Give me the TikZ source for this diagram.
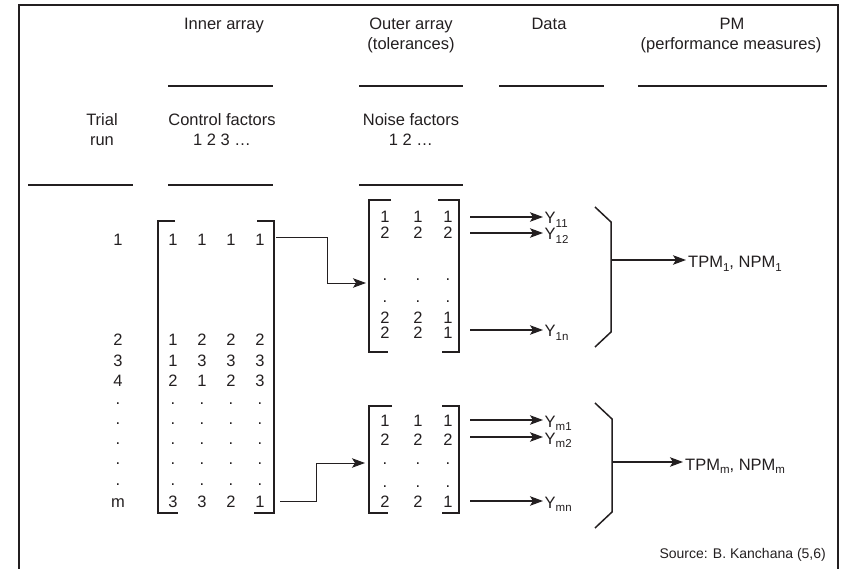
\documentclass[tikz,border=0pt]{standalone}
\usepackage{fontspec}
\setmainfont{Liberation Sans}
\usetikzlibrary{arrows.meta}
\definecolor{ink}{RGB}{35,31,32}
\newcommand\lowsub[1]{\raisebox{-3.5pt}{\fontsize{11.5}{12}\selectfont #1}}
\begin{document}
\begin{tikzpicture}[x=1pt,y=-1pt,
  txt/.style={inner sep=0pt, font=\fontsize{16.5}{20}\selectfont, text=ink},
  num/.style={txt, text height=11.8pt, text depth=0pt},
  dotn/.style={txt},
  small/.style={inner sep=0pt, font=\fontsize{14}{17}\selectfont, text=ink},
  rulel/.style={line width=2pt, draw=ink},
  brk/.style={line width=2pt, draw=ink},
  brace/.style={line width=1.5pt, draw=ink},
  conn/.style={line width=0.9pt, draw=ink, -{Stealth[length=13pt,width=9.5pt,inset=3pt]}},
  arr/.style={line width=1.1pt, draw=ink, -{Stealth[length=13pt,width=9.5pt,inset=3pt]}},
]
\useasboundingbox (0,0) rectangle (841,569);
% frame (open at the bottom)
\draw[line width=1.4pt, ink] (19,569) -- (19,5) -- (838,5) -- (838,569);

% header texts
\node[txt, anchor=base] (hInner) at (224,30) {Inner array};
\node[txt, anchor=base] (hOuter) at (411,30) {Outer array};
\node[txt, anchor=base] (hTol) at (411,50) {(tolerances)};
\node[txt, anchor=base] (hData) at (549,30) {Data};
\node[txt, anchor=base] (hPM) at (732,30) {PM};
\node[txt, anchor=base] (hPerf) at (731,50) {(performance measures)};
\node[txt, anchor=base] (hTrial) at (102,126) {Trial};
\node[txt, anchor=base] (hRun) at (102,146) {run};
\node[txt, anchor=base] (hCtrl) at (222,126) {Control factors};
\node[txt, anchor=base] (hCtrlN) at (222,146) {1 2 3 …};
\node[txt, anchor=base] (hNoise) at (411,126) {Noise factors};
\node[txt, anchor=base] (hNoiseN) at (411,146) {1 2 …};

% header rules
\draw[rulel] (168,86) -- (273,86);
\draw[rulel] (359,86) -- (463,86);
\draw[rulel] (499,86) -- (604,86);
\draw[rulel] (638,86) -- (827,86);
\draw[rulel] (28,185) -- (133,185);
\draw[rulel] (168,185) -- (273,185);
\draw[rulel] (359,185) -- (463,185);

% trial run column
\foreach \y/\t [count=\i] in {240/1,340/2,361/3,381/4,502/m}
  \node[num] (T\i) at (118,\y) {\t};
\foreach \y [count=\i] in {404,424,444,464,485}
  \node[dotn] (Td\i) at (118,\y) {.};

% inner array
\foreach \y/\a/\b/\c/\d [count=\i] in {240/1/1/1/1,340/1/2/2/2,361/1/3/3/3,381/2/1/2/3,502/3/3/2/1}{
  \node[num] (L\i a) at (173,\y) {\a};
  \node[num] (L\i b) at (202,\y) {\b};
  \node[num] (L\i c) at (231,\y) {\c};
  \node[num] (L\i d) at (260,\y) {\d};
}
\foreach \y [count=\i] in {404,424,444,464,485}
  \foreach \x [count=\j] in {173,202,231,260}
    \node[dotn] (Ld\i-\j) at (\x,\y) {.};
\draw[brk] (175,221) -- (158,221) -- (158,513) -- (178,513);
\draw[brk] (257,221) -- (274,221) -- (274,513) -- (254,513);

% upper outer array
\foreach \y/\a/\b/\c [count=\i] in {217/1/1/1,233/2/2/2,318/2/2/1,333/2/2/1}{
  \node[num] (U\i a) at (385,\y) {\a};
  \node[num] (U\i b) at (418,\y) {\b};
  \node[num] (U\i c) at (448,\y) {\c};
}
\foreach \y [count=\i] in {280,302}
  \foreach \x [count=\j] in {385,418,448}
    \node[dotn] (Ud\i-\j) at (\x,\y) {.};
\draw[brk] (391,200) -- (369,200) -- (369,352) -- (388,352);
\draw[brk] (438,200) -- (459,200) -- (459,352) -- (442,352);

% lower outer array
\foreach \y/\a/\b/\c [count=\i] in {421/1/1/1,440/2/2/2,502/2/2/1}{
  \node[num] (W\i a) at (385,\y) {\a};
  \node[num] (W\i b) at (418,\y) {\b};
  \node[num] (W\i c) at (448,\y) {\c};
}
\foreach \y [count=\i] in {464,487}
  \foreach \x [count=\j] in {385,418,448}
    \node[dotn] (Wd\i-\j) at (\x,\y) {.};
\draw[brk] (392,406) -- (369,406) -- (369,513) -- (388,513);
\draw[brk] (442,406) -- (459,406) -- (459,513) -- (442,513);

% connectors inner -> outer
\coordinate (s1) at (276,237);
\coordinate (e1) at (366,283);
\draw[conn] (s1) -- ++(51,0) |- (e1);
\coordinate (s2) at (280,501);
\coordinate (e2) at (365,463);
\draw[conn] (s2) -- ++(36,0) |- (e2);

% data labels
\node[txt, anchor=base west, inner sep=1.5pt] (Y11) at (543,224) {Y\lowsub{11}};
\node[txt, anchor=base west, inner sep=1.5pt] (Y12) at (543,240) {Y\lowsub{12}};
\node[txt, anchor=base west, inner sep=1.5pt] (Y1n) at (543,337) {Y\lowsub{1n}};
\node[txt, anchor=base west, inner sep=1.5pt] (Ym1) at (543,427) {Y\lowsub{m1}};
\node[txt, anchor=base west, inner sep=1.5pt] (Ym2) at (543,444) {Y\lowsub{m2}};
\node[txt, anchor=base west, inner sep=1.5pt] (Ymn) at (543,508) {Y\lowsub{mn}};

\coordinate (a1) at (470,217);
\coordinate (a2) at (470,233);
\coordinate (a3) at (470,330);
\coordinate (b1) at (470,420);
\coordinate (b2) at (470,437);
\coordinate (b3) at (470,501);
\draw[arr] (a1) -- (a1 -| Y11.west);
\draw[arr] (a2) -- (a2 -| Y12.west);
\draw[arr] (a3) -- (a3 -| Y1n.west);
\draw[arr] (b1) -- (b1 -| Ym1.west);
\draw[arr] (b2) -- (b2 -| Ym2.west);
\draw[arr] (b3) -- (b3 -| Ymn.west);

% braces and performance measures
\draw[brace] (595,207) -- (611,222) -- (611,332) -- (595,347);
\draw[brace] (595,403) -- (612,419) -- (612,512) -- (595,528);
\coordinate (p1) at (611,260);
\coordinate (p2) at (612,462);
\node[txt, anchor=base west, inner sep=2pt] (PM1) at (686,268) {TPM\lowsub{1}, NPM\lowsub{1}};
\node[txt, anchor=base west, inner sep=2pt] (PMm) at (683,470) {TPM\lowsub{m}, NPM\lowsub{m}};
\draw[arr] (p1) -- (p1 -| PM1.west);
\draw[arr] (p2) -- (p2 -| PMm.west);

% source
\node[small, anchor=east] (src) at (826,555) {Source: B. Kanchana (5,6)};
\end{tikzpicture}
\end{document}
